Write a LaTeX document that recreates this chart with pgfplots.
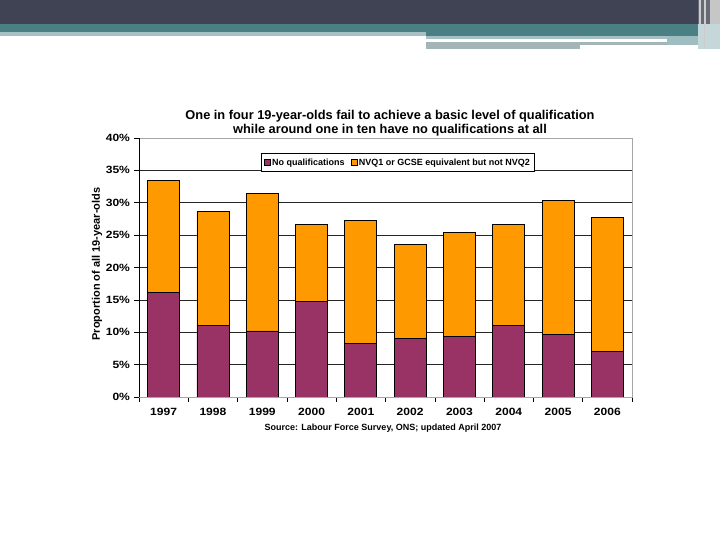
\documentclass[border=0pt]{standalone}
\usepackage{pgfplots}
\pgfplotsset{compat=1.18}
\usepackage{fontspec}
\setmainfont{Liberation Sans}
\definecolor{hdark}{HTML}{404354}
\definecolor{hteal}{HTML}{4A7F84}
\definecolor{hlight}{HTML}{A6C0C3}
\definecolor{hgray}{HTML}{A3B5B7}
\definecolor{hbox}{HTML}{9FBCC0}
\definecolor{purp}{HTML}{993366}
\definecolor{orng}{HTML}{FF9900}
\pgfplotstableread{
x none nvq
0 16.1 17.3
1 11.1 17.5
2 10.2 21.3
3 14.7 11.9
4 8.3 18.9
5 9.1 14.5
6 9.3 16.1
7 11.1 15.6
8 9.7 20.7
9 7.0 20.7
}\datatab
\begin{document}
\begin{tikzpicture}[x=1bp,y=1bp]
\fill[white] (0,0) rectangle (720,540);
% header decoration
\fill[hdark] (0,540) rectangle (698,516);
\fill[hteal] (0,516) rectangle (720,508);
\fill[hlight] (0,508) rectangle (426,504);
\fill[hteal] (426,508) rectangle (698,504);
\fill[hlight] (426,504) rectangle (667,501);
\fill[hbox] (667,504) rectangle (698,495);
\fill[hgray] (426,498) rectangle (580,491);
\fill[hgray] (580,498) rectangle (667,495);
\fill[hdark!80] (698,540) rectangle (710,516);
\fill[gray!45] (710,540) rectangle (720,516);
\fill[gray!40] (699,540) rectangle (700.5,516);
\fill[gray!40] (704,540) rectangle (705.5,516);
\fill[hbox!60] (698,516) rectangle (720,491);
\fill[gray!40] (704,516) rectangle (705,493);
\begin{axis}[
  at={(139bp,143bp)}, anchor=south west, scale only axis,
  width=493bp, height=259bp,
  ybar stacked, bar width=32bp,
  xmin=-0.5, xmax=9.5, ymin=0, ymax=40,
  xtick={0,...,9},
  xticklabels={1997,1998,1999,2000,2001,2002,2003,2004,2005,2006},
  major x tick style={draw=none},
  minor xtick={-0.5,0.5,1.5,2.5,3.5,4.5,5.5,6.5,7.5,8.5,9.5},
  minor x tick style={black, line width=0.5pt},
  minor tick length=5bp,
  major tick length=5bp,
  tick align=outside, tick pos=left,
  ytick={0,5,...,40},
  yticklabels={0\%,5\%,10\%,15\%,20\%,25\%,30\%,35\%,40\%},
  y tick style={black, line width=0.5pt},
  ymajorgrids, major grid style={black!85, line width=0.6pt},
  axis line style={gray!70, line width=0.6pt},
  tick label style={font=\fontsize{10.5bp}{12bp}\selectfont\bfseries, xscale=1.15},
  xticklabel style={yshift=-3bp},
  legend style={at={(0.525,0.905)}, anchor=center, legend columns=-1,
    draw=black, fill=white, font=\fontsize{9bp}{10.5bp}\selectfont\bfseries,
    inner xsep=2bp, inner ysep=3bp,
    /tikz/every even column/.append style={column sep=4bp}},
  legend image code/.code={\draw[#1, draw=black, line width=0.4pt] (0bp,-3bp) rectangle (6bp,3bp);},
]
\addplot[fill=purp, draw=black, line width=0.8pt] table[x=x,y=none] {\datatab};
\addplot[fill=orng, draw=black, line width=0.8pt] table[x=x,y=nvq] {\datatab};
\legend{No qualifications,NVQ1 or GCSE equivalent but not NVQ2}
\draw[black, line width=0.8pt] (rel axis cs:0,1) -- (rel axis cs:0,0) -- (rel axis cs:1,0);
\end{axis}
\node[font=\fontsize{12.8bp}{14bp}\selectfont\bfseries, anchor=base] at (390,420)
  {One in four 19-year-olds fail to achieve a basic level of qualification};
\node[font=\fontsize{12.8bp}{14bp}\selectfont\bfseries, anchor=base] at (390,406)
  {while around one in ten have no qualifications at all};
\node[font=\fontsize{11bp}{12bp}\selectfont\bfseries, rotate=90] at (97,276) {Proportion of all 19-year-olds};
\node[font=\fontsize{9bp}{10bp}\selectfont\bfseries] at (383,112) {Source: Labour Force Survey, ONS; updated April 2007};
\end{tikzpicture}
\end{document}
